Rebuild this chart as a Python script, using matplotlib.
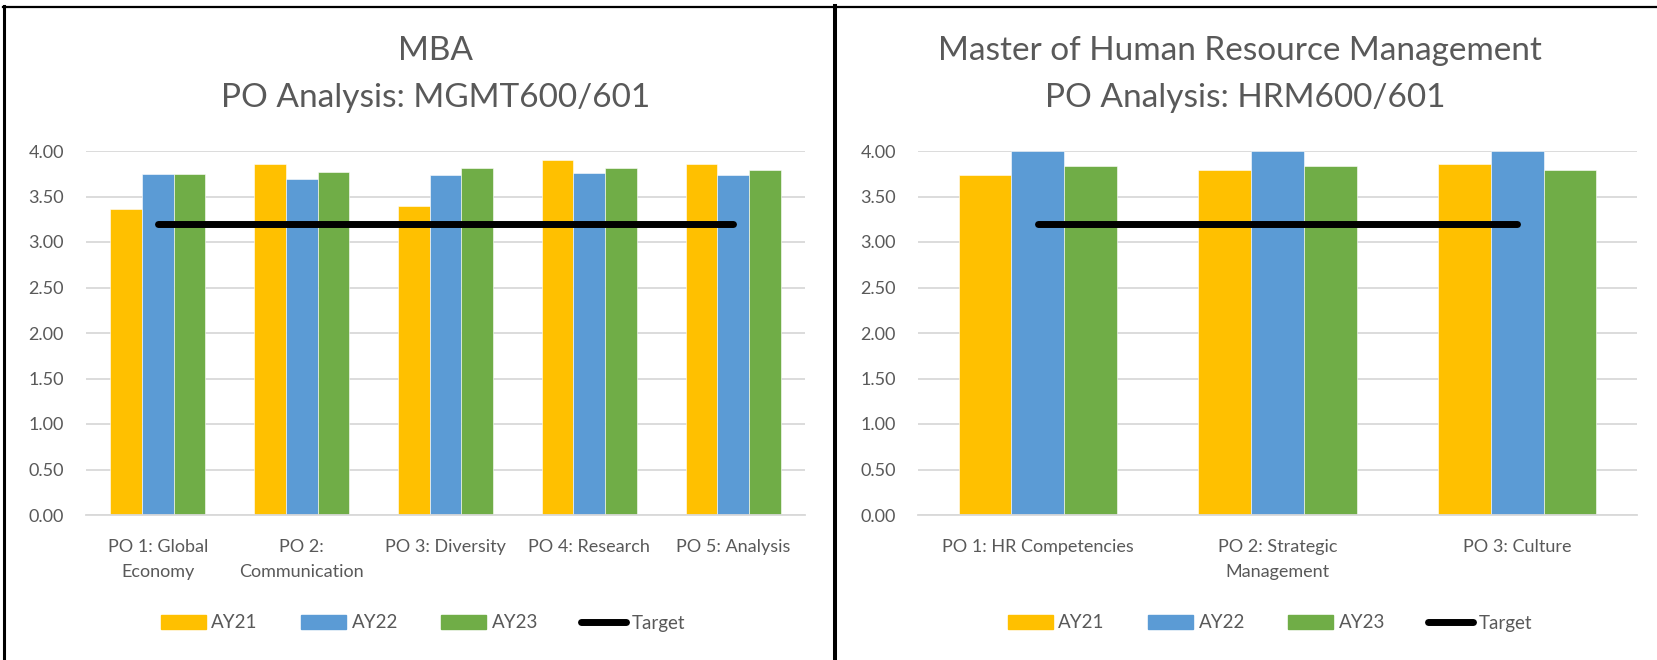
import matplotlib
matplotlib.use("Agg")
import matplotlib.pyplot as plt
import numpy as np
from matplotlib.lines import Line2D
from matplotlib.patches import Patch

plt.rcParams['font.family'] = ['Lato', 'DejaVu Sans']

# data
mba_cats = ["PO 1: Global\nEconomy", "PO 2:\nCommunication", "PO 3: Diversity",
            "PO 4: Research", "PO 5: Analysis"]
mba_ay21 = [3.36, 3.86, 3.40, 3.90, 3.86]
mba_ay22 = [3.75, 3.69, 3.74, 3.76, 3.74]
mba_ay23 = [3.75, 3.77, 3.81, 3.81, 3.79]
mba_target = [3.2, 3.2, 3.2, 3.2, 3.2]

hrm_cats = ["PO 1: HR Competencies", "PO 2: Strategic\nManagement", "PO 3: Culture"]
hrm_ay21 = [3.74, 3.79, 3.86]
hrm_ay22 = [4.00, 4.00, 4.00]
hrm_ay23 = [3.83, 3.84, 3.79]
hrm_target = [3.2, 3.2, 3.2]

series_names = ["AY21", "AY22", "AY23", "Target"]
colors = ["#FFC000", "#5B9BD5", "#70AD47"]
yticks = [0, 0.5, 1.0, 1.5, 2.0, 2.5, 3.0, 3.5, 4.0]

W, H = 1658, 660
fig = plt.figure(figsize=(W / 100, H / 100), dpi=100)
grey = "#595959"


def draw(ax, cats, a, b, c, target):
    x = np.arange(len(cats))
    w = 0.22
    for i, (vals, col) in enumerate(zip([a, b, c], colors)):
        ax.bar(x + (i - 1) * w, vals, width=w, color=col, edgecolor="white",
               linewidth=0.4, zorder=2)
    ax.plot(x, target, color="black", lw=5, solid_capstyle="round", zorder=3)
    ax.set_xlim(-0.5, len(cats) - 0.5)
    ax.set_ylim(0, 4.0)
    ax.set_yticks(yticks)
    ax.set_yticklabels(["{:.2f}".format(v) for v in yticks])
    ax.set_xticks(x)
    ax.set_xticklabels(cats, linespacing=1.75)
    ax.tick_params(axis="y", length=0, pad=16, labelsize=13, labelcolor=grey)
    ax.tick_params(axis="x", length=0, pad=17, labelsize=13, labelcolor=grey)
    ax.grid(axis="y", color="#d9d9d9", lw=1.3, zorder=0)
    ax.set_axisbelow(True)
    for s in ["top", "right", "left"]:
        ax.spines[s].set_visible(False)
    ax.spines["bottom"].set_color("#d9d9d9")
    ax.spines["bottom"].set_linewidth(1.3)


def legend(cx):
    handles = [Patch(color=col) for col in colors]
    handles.append(Line2D([0], [0], color="black", lw=5, solid_capstyle="round"))
    fig.legend(handles, series_names, loc="center", bbox_to_anchor=(cx / W, 1 - 623 / H),
               ncol=4, frameon=False, fontsize=13.5, labelcolor=grey,
               handlelength=2.4, handleheight=0.7, handletextpad=0.3, columnspacing=2.3)


ax1 = fig.add_axes([86 / W, 1 - 515 / H, 719 / W, 364 / H])
draw(ax1, mba_cats, mba_ay21, mba_ay22, mba_ay23, mba_target)
ax2 = fig.add_axes([918 / W, 1 - 515 / H, 719 / W, 364 / H])
draw(ax2, hrm_cats, hrm_ay21, hrm_ay22, hrm_ay23, hrm_target)

# titles
tkw = dict(ha="center", va="center", fontsize=24, color=grey)
fig.text(436 / W, 1 - 51 / H, "MBA", **tkw)
fig.text(436 / W, 1 - 98 / H, "PO Analysis: MGMT600/601", **tkw)
fig.text(1240 / W, 1 - 51 / H, "Master of Human Resource Management", **tkw)
fig.text(1245 / W, 1 - 98 / H, "PO Analysis: HRM600/601", **tkw)

legend(423)
legend(1270)

# frame lines
fig.add_artist(Line2D([3 / W, 1], [1 - 7 / H, 1 - 7 / H], color="black", lw=1.6,
                      transform=fig.transFigure))
fig.add_artist(Line2D([4.5 / W, 4.5 / W], [0, 1 - 6 / H], color="black", lw=2.2,
                      transform=fig.transFigure))
fig.add_artist(Line2D([835 / W, 835 / W], [0, 1 - 6 / H], color="black", lw=2.9,
                      transform=fig.transFigure))

fig.savefig("out.png", dpi=100, facecolor="white")
